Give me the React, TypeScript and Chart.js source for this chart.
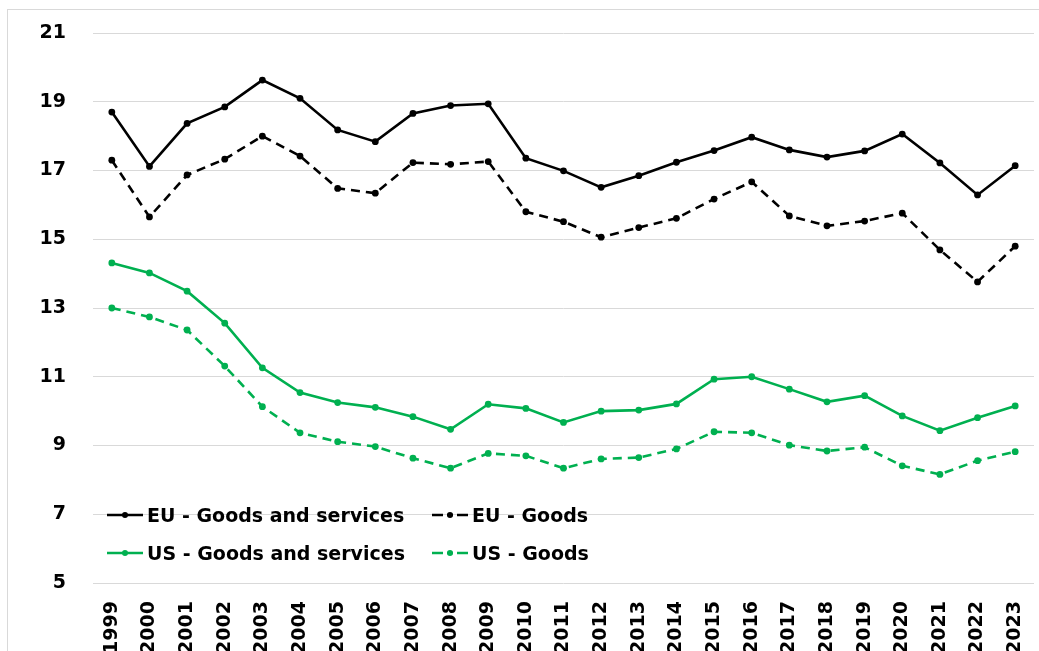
import React, { useEffect, useRef } from "react";
import { Chart, registerables } from "chart.js";

Chart.register(...registerables);

const years = [
  "1999", "2000", "2001", "2002", "2003", "2004", "2005", "2006", "2007", "2008",
  "2009", "2010", "2011", "2012", "2013", "2014", "2015", "2016", "2017", "2018",
  "2019", "2020", "2021", "2022", "2023",
];

const euGoodsServices = [
  18.70, 17.12, 18.37, 18.85, 19.63, 19.10, 18.18, 17.84, 18.66, 18.89,
  18.94, 17.36, 16.99, 16.51, 16.85, 17.24, 17.58, 17.97, 17.60, 17.39,
  17.57, 18.06, 17.22, 16.29, 17.14,
];

const euGoods = [
  17.30, 15.65, 16.87, 17.33, 18.00, 17.42, 16.48, 16.34, 17.23, 17.18,
  17.26, 15.80, 15.51, 15.06, 15.34, 15.61, 16.17, 16.67, 15.68, 15.39,
  15.53, 15.76, 14.69, 13.76, 14.80,
];

const usGoodsServices = [
  14.31, 14.02, 13.49, 12.56, 11.26, 10.54, 10.25, 10.11, 9.84, 9.47,
  10.20, 10.08, 9.67, 10.00, 10.03, 10.21, 10.93, 11.00, 10.64, 10.27,
  10.45, 9.86, 9.43, 9.81, 10.15,
];

const usGoods = [
  13.00, 12.74, 12.36, 11.31, 10.13, 9.37, 9.11, 8.97, 8.63, 8.34,
  8.77, 8.70, 8.34, 8.61, 8.65, 8.90, 9.40, 9.37, 9.01, 8.84,
  8.95, 8.41, 8.16, 8.56, 8.82,
];

const seriesLabels = [
  "EU - Goods and services",
  "EU - Goods",
  "US - Goods and services",
  "US - Goods",
];

const BLACK = "#000000";
const GREEN = "#00B050";
const FONT = "'DejaVu Sans', sans-serif";

const CANVAS_W = 1039;
const CANVAS_H = 680;

function LegendSymbol({ color, dashed }: { color: string; dashed: boolean }) {
  return (
    <svg width={36} height={12} style={{ display: "block", marginRight: 4 }}>
      {dashed ? (
        <>
          <line x1={0} y1={6} x2={11} y2={6} stroke={color} strokeWidth={2.5} />
          <line x1={15} y1={6} x2={21} y2={6} stroke={color} strokeWidth={2.5} />
          <line x1={25} y1={6} x2={36} y2={6} stroke={color} strokeWidth={2.5} />
        </>
      ) : (
        <line x1={0} y1={6} x2={36} y2={6} stroke={color} strokeWidth={2.5} />
      )}
      <circle cx={18} cy={6} r={3} fill={color} />
    </svg>
  );
}

export default function App() {
  const canvasRef = useRef<HTMLCanvasElement | null>(null);

  useEffect(() => {
    if (!canvasRef.current) return;
    const mk = (label: string, data: number[], color: string, dashed: boolean) => ({
      label,
      data,
      borderColor: color,
      backgroundColor: color,
      borderWidth: 2.6,
      borderDash: dashed ? [9, 6] : [],
      pointRadius: 3.4,
      pointBorderWidth: 0,
      pointBackgroundColor: color,
      tension: 0,
      fill: false,
    });
    const chart = new Chart(canvasRef.current, {
      type: "line",
      data: {
        labels: years,
        datasets: [
          mk(seriesLabels[0], euGoodsServices, BLACK, false),
          mk(seriesLabels[1], euGoods, BLACK, true),
          mk(seriesLabels[2], usGoodsServices, GREEN, false),
          mk(seriesLabels[3], usGoods, GREEN, true),
        ],
      },
      options: {
        animation: false,
        responsive: false,
        devicePixelRatio: 1,
        layout: { padding: { top: 33, right: 5, left: 0, bottom: 0 } },
        plugins: {
          legend: { display: false },
          tooltip: { enabled: false },
        },
        scales: {
          x: {
            type: "category",
            offset: true,
            grid: { display: false, drawTicks: false },
            border: { display: false },
            ticks: {
              color: "#000",
              font: { family: FONT, size: 19, weight: "bold" },
              minRotation: 90,
              maxRotation: 90,
              autoSkip: false,
              padding: 18,
            },
            afterFit: (scale: any) => {
              scale.height = CANVAS_H - 583;
              scale.paddingLeft = 0;
              scale.paddingRight = 0;
              scale.paddingTop = 0;
              scale.paddingBottom = 0;
            },
          },
          y: {
            min: 5,
            max: 21,
            grid: { color: "#d9d9d9", lineWidth: 1, drawTicks: false },
            border: { display: false },
            ticks: {
              stepSize: 2,
              color: "#000",
              font: { family: FONT, size: 19, weight: "bold" },
              padding: 27,
            },
            afterFit: (scale: any) => {
              scale.width = 93;
              scale.paddingTop = 0;
              scale.paddingBottom = 0;
              scale.paddingLeft = 0;
              scale.paddingRight = 0;
            },
          },
        },
      },
    });
    return () => chart.destroy();
  }, []);

  const legendItems = [
    { label: seriesLabels[0], color: BLACK, dashed: false, left: 107, top: 515 },
    { label: seriesLabels[1], color: BLACK, dashed: true, left: 432, top: 515 },
    { label: seriesLabels[2], color: GREEN, dashed: false, left: 107, top: 553 },
    { label: seriesLabels[3], color: GREEN, dashed: true, left: 432, top: 553 },
  ];

  return (
    <div
      style={{
        position: "fixed",
        left: 0,
        top: 0,
        width: 1039,
        height: 651,
        overflow: "hidden",
        background: "#fff",
      }}
    >
      <div
        style={{
          position: "absolute",
          left: 7,
          top: 9,
          width: 1200,
          height: 800,
          border: "1px solid #d9d9d9",
        }}
      />
      <canvas
        ref={canvasRef}
        width={CANVAS_W}
        height={CANVAS_H}
        style={{ position: "absolute", left: 0, top: 0, width: CANVAS_W, height: CANVAS_H }}
      />
      {legendItems.map((it) => (
        <div
          key={it.label}
          style={{
            position: "absolute",
            left: it.left,
            top: it.top - 14,
            height: 28,
            display: "flex",
            alignItems: "center",
            fontFamily: FONT,
            fontWeight: "bold",
            fontSize: 19,
            color: "#000",
            whiteSpace: "nowrap",
            background: "transparent",
          }}
        >
          <LegendSymbol color={it.color} dashed={it.dashed} />
          <span>{it.label}</span>
        </div>
      ))}
    </div>
  );
}
